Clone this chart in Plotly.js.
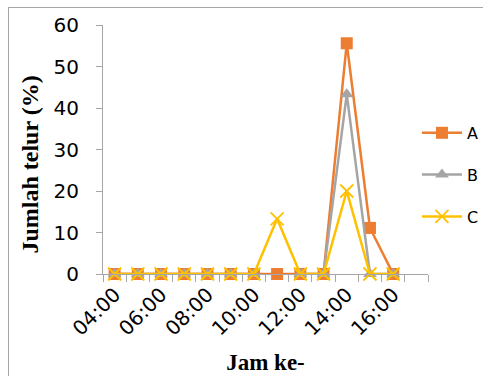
<!DOCTYPE html>
<html>
<head>
<meta charset="utf-8">
<script src="https://cdn.plot.ly/plotly-3.0.1.min.js"></script>
<style>
  html, body { margin: 0; padding: 0; background: #fff; }
  #chart { width: 483px; height: 376px; position: absolute; left: 0; top: 0; }
  #frame { position: absolute; left: 8px; top: 7px; width: 600px; height: 500px; border: 1px solid #a6a6a6; pointer-events: none; }
</style>
</head>
<body>
<div id="chart"></div>
<div id="frame"></div>
<script>
const categories = ["04:00","05:00","06:00","07:00","08:00","09:00","10:00","11:00","12:00","13:00","14:00","15:00","16:00","17:00"];
const tickLabels = ["04:00","","06:00","","08:00","","10:00","","12:00","","14:00","","16:00",""];
const seriesA = [0,0,0,0,0,0,0,0,0,0,55.6,11.1,0];
const seriesB = [0,0,0,0,0,0,0,null,0,0,43.3,0,0];
const seriesC = [0,0,0,0,0,0,0,13.3,0,0,20,0,0];

const xs = categories.slice(0, 13);

const traces = [
  { x: xs, y: seriesA, name: "A", legendgroup: "a", type: "scatter", mode: "lines+markers", cliponaxis: false,
    line: { color: "#ED7D31", width: 2.5 },
    marker: { symbol: "square", size: 12, color: "#ED7D31" } },
  { x: xs, y: seriesB, name: "B", legendgroup: "b", type: "scatter", mode: "lines+markers", cliponaxis: false,
    line: { color: "#A5A5A5", width: 2.5 }, connectgaps: false,
    marker: { symbol: "triangle-up", size: 12, color: "#A5A5A5" } },
  { x: xs, y: seriesC, name: "C", legendgroup: "c", type: "scatter", mode: "lines+markers", cliponaxis: false,
    line: { color: "#FFC000", width: 2.5 },
    marker: { symbol: "x-thin-open", size: 13, color: "#FFC000", line: { color: "#FFC000", width: 1.8 } } }
];

const layout = {
  width: 483, height: 376,
  margin: { l: 103, r: 55, t: 25, b: 102, autoexpand: false },
  paper_bgcolor: "rgba(0,0,0,0)",
  plot_bgcolor: "rgba(0,0,0,0)",
  showlegend: true,
  legend: { x: 0.966, y: 0.398, xanchor: "left", yanchor: "middle",
            font: { family: "DejaVu Sans", size: 16, color: "#000" },
            tracegroupgap: 18, itemwidth: 40, bgcolor: "rgba(0,0,0,0)" },
  xaxis: {
    type: "category",
    categoryorder: "array", categoryarray: categories,
    range: [-0.5, 13.5],
    tickmode: "array", tickvals: categories, ticktext: tickLabels,
    tickson: "boundaries",
    ticks: "outside", ticklen: 7, tickcolor: "#a6a6a6", tickwidth: 1,
    tickangle: -45,
    tickfont: { family: "DejaVu Sans", size: 20, color: "#000" },
    showline: true, linecolor: "#a6a6a6", linewidth: 1,
    showgrid: false, zeroline: false,
    title: { text: "<b>Jam ke-</b>", font: { family: "Liberation Serif", size: 23, color: "#000" }, standoff: 14 }
  },
  yaxis: {
    range: [0, 60], dtick: 10, tick0: 0,
    ticks: "outside", ticklen: 6, tickcolor: "#a6a6a6",
    ticklabelstandoff: 13,
    tickfont: { family: "DejaVu Sans", size: 20, color: "#000" },
    showline: true, linecolor: "#a6a6a6", linewidth: 1,
    showgrid: false, zeroline: false,
    title: { text: "<b>Jumlah telur (%)&nbsp;&nbsp;&nbsp;&nbsp;&nbsp;</b>", font: { family: "Liberation Serif", size: 24, color: "#000" }, standoff: 8 }
  }
};

Plotly.newPlot("chart", traces, layout, { displayModeBar: false, staticPlot: true });
</script>
</body>
</html>
